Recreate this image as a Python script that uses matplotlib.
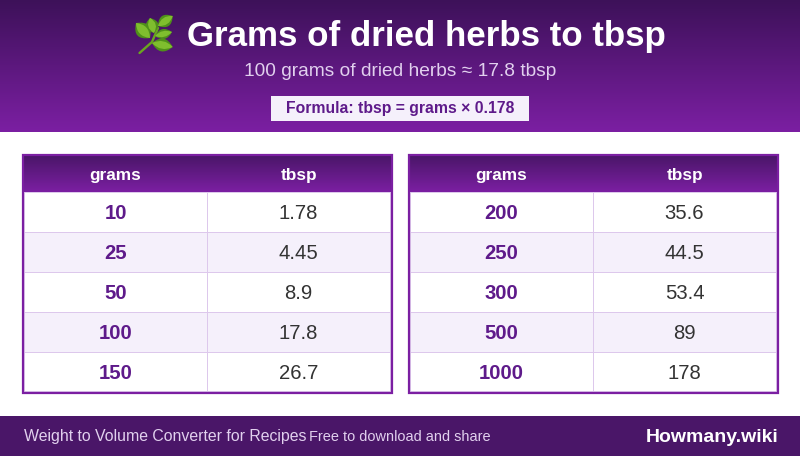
import matplotlib
matplotlib.use('Agg')
import matplotlib.pyplot as plt
from matplotlib.colors import LinearSegmentedColormap
from matplotlib.patches import PathPatch, Rectangle
from matplotlib.path import Path
import numpy as np

plt.rcParams['font.family'] = ['Liberation Sans', 'DejaVu Sans']

# -------------------------
# Data
# -------------------------
col_names = ['grams', 'tbsp']
grams_left = ['10', '25', '50', '100', '150']
tbsp_left = ['1.78', '4.45', '8.9', '17.8', '26.7']
grams_right = ['200', '250', '300', '500', '1000']
tbsp_right = ['35.6', '44.5', '53.4', '89', '178']

title = 'Grams of dried herbs to tbsp'
subtitle = '100 grams of dried herbs \u2248 17.8 tbsp'
formula = 'Formula: tbsp = grams \u00d7 0.178'
footer_left = 'Weight to Volume Converter for Recipes'
footer_mid = 'Free to download and share'
footer_right = 'Howmany.wiki'

# colours
dark = '#3d1159'
mid = '#4a1668'
purple = '#7b1fa2'
deep_text = '#5e1a8a'
pale = '#f5f0fb'
line = '#ddc8ec'

grad = LinearSegmentedColormap.from_list('head', [dark, purple])
grad2 = LinearSegmentedColormap.from_list('th', [mid, purple])

# -------------------------
# Figure in pixel coordinates
# -------------------------
# 4.5601 so the canvas does not round down to 455 px
fig = plt.figure(figsize=(8, 4.5601), dpi=100)
ax = fig.add_axes([0, 0, 1, 1])
ax.set_xlim(0, 800)
ax.set_ylim(456, 0)
ax.axis('off')


def gradient(x0, x1, y0, y1, cmap):
    g = np.linspace(0, 1, 64).reshape(-1, 1)
    ax.imshow(g, cmap=cmap, extent=(x0, x1, y1, y0), aspect='auto',
              interpolation='bilinear', zorder=1)


def leaf(base, tip, width, color, zorder):
    base, tip = np.array(base, float), np.array(tip, float)
    d = tip - base
    n = np.array([-d[1], d[0]]) / np.hypot(*d) * width
    m = (base + tip) / 2
    verts = [base, m + n, tip, m - n, base]
    codes = [Path.MOVETO, Path.CURVE3, Path.CURVE3, Path.CURVE3, Path.CURVE3]
    ax.add_patch(PathPatch(Path(verts, codes), fc=color, lw=0, zorder=zorder))


def herb():
    # little drawn stand-in for the herb emoji
    ax.plot([139.5, 152, 158], [53, 42, 28], color='#6aa51f', lw=1.7,
            solid_capstyle='round', zorder=3)
    leaves = [((150, 38), (136, 23), 15), ((154, 33), (150, 18), 13),
              ((158, 26), (172.7, 16), 12), ((155, 36), (172, 32), 10),
              ((152, 43), (172.7, 47), 13)]
    for base, tip, w in leaves:
        leaf(base, tip, w, '#4f8f1a', 4)
        leaf(base, tip, w * 0.6, '#7fbe2e', 5)


def draw_table(x0, x1, split, grams, tbsp):
    top, head_end, row_h = 156, 192, 40
    bottom = head_end + row_h * len(grams)
    gradient(x0, x1, top, head_end, grad2)
    ax.text((x0 + split) / 2, 180, col_names[0], color='white', fontsize=12.4,
            fontweight='bold', ha='center', va='baseline', zorder=6)
    ax.text((split + x1) / 2, 180, col_names[1], color='white', fontsize=12.4,
            fontweight='bold', ha='center', va='baseline', zorder=6)
    for i, (g, t) in enumerate(zip(grams, tbsp)):
        y0 = head_end + i * row_h
        ax.add_patch(Rectangle((x0, y0), x1 - x0, row_h, lw=0,
                               color=pale if i % 2 else 'white', zorder=2))
        ax.plot([x0, x1], [y0 + 0.5, y0 + 0.5], color=line, lw=0.72, zorder=3,
                solid_capstyle='butt')
        ax.text((x0 + split) / 2, y0 + 27, g, color=deep_text, fontsize=14.6,
                fontweight='bold', ha='center', va='baseline', zorder=6)
        ax.text((split + x1) / 2 - 0.5, y0 + 27, t, color='#333333', fontsize=14.6,
                ha='center', va='baseline', zorder=6)
    ax.plot([split, split], [head_end, bottom], color=line, lw=0.72, zorder=3,
            solid_capstyle='butt')
    ax.plot([x0, x0], [head_end, bottom], color=line, lw=0.72, zorder=3)
    ax.plot([x1 - 1, x1 - 1], [head_end, bottom], color=line, lw=0.72, zorder=3)
    ax.plot([x0, x1], [bottom - 1, bottom - 1], color=line, lw=0.72, zorder=3)
    # purple outer border
    ax.add_patch(Rectangle((x0 - 1, top - 1), x1 - x0 + 2, bottom - top + 2, fill=False,
                           ec=purple, lw=1.6, zorder=5))


# -------------------------
# Header band
# -------------------------
gradient(0, 800, 0, 132, grad)
herb()
ax.text(187, 46, title, color='white', fontsize=25.1, fontweight='bold',
        ha='left', va='baseline', zorder=6)
ax.text(400, 76, subtitle, color='#e1d0ee', fontsize=13.75, ha='center', va='baseline', zorder=6)
ax.add_patch(Rectangle((271, 96), 258, 25, lw=0, color=pale, zorder=2))
ax.text(400, 113, formula, color=deep_text, fontsize=11.35, fontweight='bold',
        ha='center', va='baseline', zorder=6)

# -------------------------
# Tables
# -------------------------
draw_table(24, 391, 207, grams_left, tbsp_left)
draw_table(410, 777, 593, grams_right, tbsp_right)

# -------------------------
# Footer
# -------------------------
ax.add_patch(Rectangle((0, 416), 800, 40, lw=0, color=mid, zorder=2))
ax.text(24, 441, footer_left, color='#e1d0ee', fontsize=11.42, ha='left', va='baseline', zorder=6)
ax.text(309, 441, footer_mid, color='#e1d0ee', fontsize=10.45, ha='left', va='baseline', zorder=6)
ax.text(778.5, 442, footer_right, color='white', fontsize=14, fontweight='bold',
        ha='right', va='baseline', zorder=6)

ax.set_xlim(0, 800)
ax.set_ylim(456, 0)
fig.savefig('out.png', dpi=100, facecolor='white')
